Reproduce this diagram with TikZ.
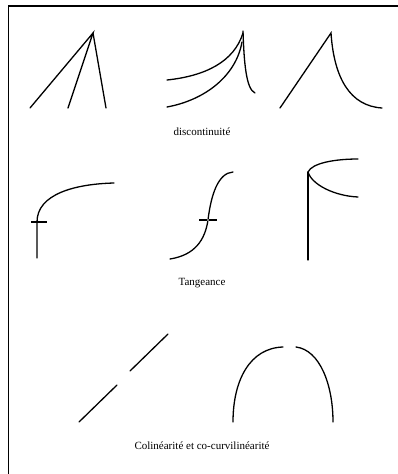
\documentclass[tikz,border=0pt]{standalone}
\usepackage{fontspec}
\setmainfont{Liberation Serif}
\begin{document}
\begin{tikzpicture}[x=1pt,y=-1pt,
  curve/.style={line width=1.3pt,line cap=round},
  tick/.style={line width=2.6pt},
  frame/.style={line width=1.5pt},
  caption/.style={font=\fontsize{11}{13}\selectfont,inner sep=0pt}]
\useasboundingbox (0,0) rectangle (398,474);
% frame (top and left edges)
\coordinate (fbl) at (8.5,474);
\coordinate (ftl) at (8.5,6);
\coordinate (ftr) at (398,6);
\draw[frame] (fbl) -- (ftl) -- (ftr);

% --- discontinuite ---
\draw[curve] (30,108) -- (93,33) -- (68,108);
\draw[curve] (93,33) -- (106,108);

\draw[curve] (243,31) .. controls (244,62) and (246,89) .. (255,93);
\draw[curve] (167,80) .. controls (205,76) and (234,62) .. (243,33);
\draw[curve] (167,107) .. controls (205,100) and (236,76) .. (242,42);

\draw[curve] (280,108) -- (331,33) .. controls (334,78) and (350,106) .. (382,108);

\node[caption] (t1) at (202,132) {discontinuité};

% --- tangeance ---
\draw[curve] (37,258) -- (37,222) .. controls (37,194) and (75,184) .. (114,183);
\draw[tick] (31,222) -- (47,222);

\draw[curve] (170,259) .. controls (195,255) and (205,240) .. (208,220)
  .. controls (211,195) and (218,173) .. (233,172);
\draw[tick] (199,220) -- (217,220);
\fill[white] (208,220) circle (0.9);

\draw[curve] (308,260) -- (308,172);
\draw[curve] (308,172) .. controls (312,163) and (335,159) .. (358,159);
\draw[curve] (308,172) .. controls (312,185) and (335,196) .. (358,197);

\node[caption] (t2) at (202,283) {Tangeance};

% --- colinearite ---
\draw[curve] (79,422) -- (117,385);
\draw[curve] (130,371) -- (168,334);

\draw[curve] (233,422) .. controls (233,380) and (250,348) .. (283,347);
\draw[curve] (296,347) .. controls (320,350) and (333,385) .. (333,422);

\node[caption] (t3) at (202,446) {Colinéarité et co-curvilinéarité};
\end{tikzpicture}
\end{document}
